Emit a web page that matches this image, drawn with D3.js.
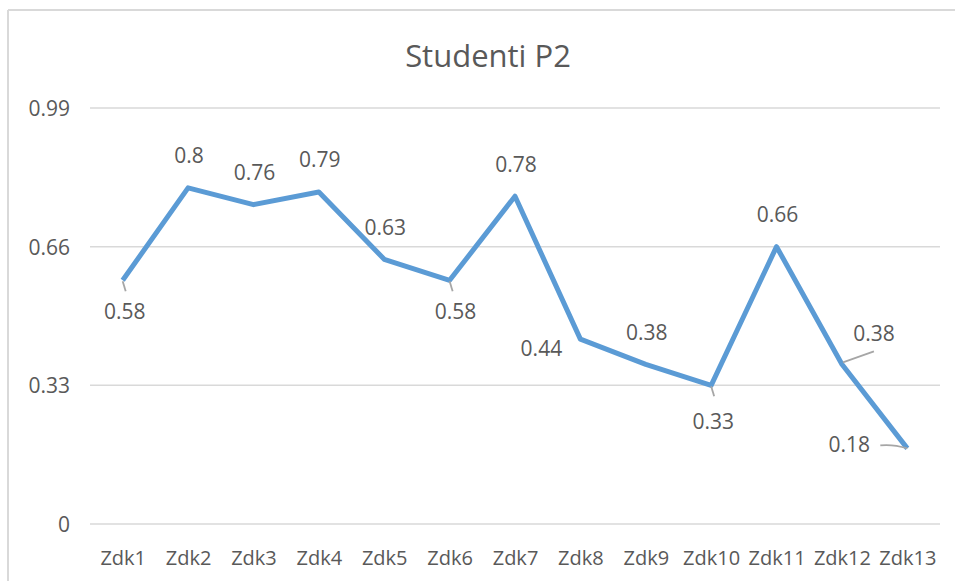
<!DOCTYPE html>
<html>
<head>
<meta charset="utf-8">
<script src="https://cdn.jsdelivr.net/npm/d3@7"></script>
<style>
  body { margin: 0; background: #fff; }
  text { font-family: "Open Sans", "Noto Sans", sans-serif; fill: #595959; }
</style>
</head>
<body>
<svg id="chart"></svg>
<script>
// chart data
const categories = ["Zdk1", "Zdk2", "Zdk3", "Zdk4", "Zdk5", "Zdk6", "Zdk7", "Zdk8", "Zdk9", "Zdk10", "Zdk11", "Zdk12", "Zdk13"];
const values = [0.58, 0.8, 0.76, 0.79, 0.63, 0.58, 0.78, 0.44, 0.38, 0.33, 0.66, 0.38, 0.18];
const yTicks = [0, 0.33, 0.66, 0.99];
const title = "Studenti P2";

const width = 955;
const height = 581;
const margin = { top: 108, right: 15, bottom: 57, left: 90 };
const fontSize = "21px";

const svg = d3.select("#chart")
    .attr("width", width)
    .attr("height", height);

// outer frame (only top and left edge visible)
svg.append("line").attr("x1", 8).attr("x2", width).attr("y1", 10).attr("y2", 10)
    .style("stroke", "#d9d9d9").style("stroke-width", 2);
svg.append("line").attr("x1", 8).attr("x2", 8).attr("y1", 10).attr("y2", height)
    .style("stroke", "#d9d9d9").style("stroke-width", 2);

const xScale = d3.scalePoint()
    .domain(categories)
    .range([margin.left, width - margin.right])
    .padding(0.5);

const yScale = d3.scaleLinear()
    .domain([0, 0.99])
    .range([height - margin.bottom, margin.top]);

// gridlines
svg.append("g")
    .selectAll("line")
    .data(yTicks)
    .enter()
    .append("line")
    .attr("x1", margin.left)
    .attr("x2", width - margin.right)
    .attr("y1", d => yScale(d))
    .attr("y2", d => yScale(d))
    .style("stroke", "#d9d9d9")
    .style("stroke-width", 1.5);

// y axis
const yAxis = d3.axisLeft(yScale)
    .tickValues(yTicks)
    .tickFormat(d => d === 0 ? "0" : d3.format(".2f")(d))
    .tickSize(0)
    .tickPadding(0);

svg.append("g")
    .attr("class", "y-axis")
    .attr("transform", `translate(${margin.left - 20}, 0)`)
    .call(yAxis)
    .call(g => g.select(".domain").remove())
    .call(g => g.selectAll("text").style("font-size", fontSize).style("fill", "#595959")
        .style("font-family", "'Open Sans', sans-serif").attr("text-anchor", "end").attr("dy", "0.35em"));

// x axis
const xAxis = d3.axisBottom(xScale).tickSize(0).tickPadding(0);

svg.append("g")
    .attr("class", "x-axis")
    .attr("transform", `translate(0, 565)`)
    .call(xAxis)
    .call(g => g.select(".domain").remove())
    .call(g => g.selectAll("text").style("font-size", "20px").style("fill", "#595959")
        .style("font-family", "'Open Sans', sans-serif").attr("dy", "0"));

// title
svg.append("text")
    .attr("x", 488)
    .attr("y", 67)
    .style("text-anchor", "middle")
    .style("font-size", "31px")
    .text(title);

// the line
const line = d3.line()
    .x((d, i) => xScale(categories[i]))
    .y(d => yScale(d));

svg.append("path")
    .datum(values)
    .attr("d", line)
    .style("fill", "none")
    .style("stroke", "#5b9bd5")
    .style("stroke-width", 5)
    .style("stroke-linejoin", "round");

// data labels: default above the point, a few moved like in the original
const labelShift = {
    0: { dx: 2, dy: 31, leader: true },
    5: { dx: 6, dy: 31, leader: true },
    7: { dx: -39, dy: 10 },
    9: { dx: 2, dy: 36, leader: true },
    11: { dx: 32, dy: -31, leader: true },
    12: { dx: -58, dy: -4, leader: true }
};

const labels = svg.append("g").selectAll("g")
    .data(values)
    .enter()
    .append("g");

labels.each(function (d, i) {
    const g = d3.select(this);
    const px = xScale(categories[i]);
    const py = yScale(d);
    const s = labelShift[i] || { dx: 1, dy: -32 };
    if (s.leader) {
        let path;
        if (i === 11) path = `M${px + 1},${py - 2} L${px + 32},${py - 13}`;
        else if (i === 12) path = `M${px - 27},${py - 3} C${px - 18},${py - 4} ${px - 10},${py - 3} ${px},${py}`;
        else path = `M${px},${py + 1} L${px + 3},${py + 11}`;
        g.append("path").attr("d", path)
            .style("fill", "none").style("stroke", "#a6a6a6").style("stroke-width", 1.8);
    }
    g.append("text")
        .attr("x", px + s.dx)
        .attr("y", py + s.dy)
        .attr("dy", "0.35em")
        .style("text-anchor", "middle")
        .style("font-size", fontSize)
        .text(d);
});
</script>
</body>
</html>
